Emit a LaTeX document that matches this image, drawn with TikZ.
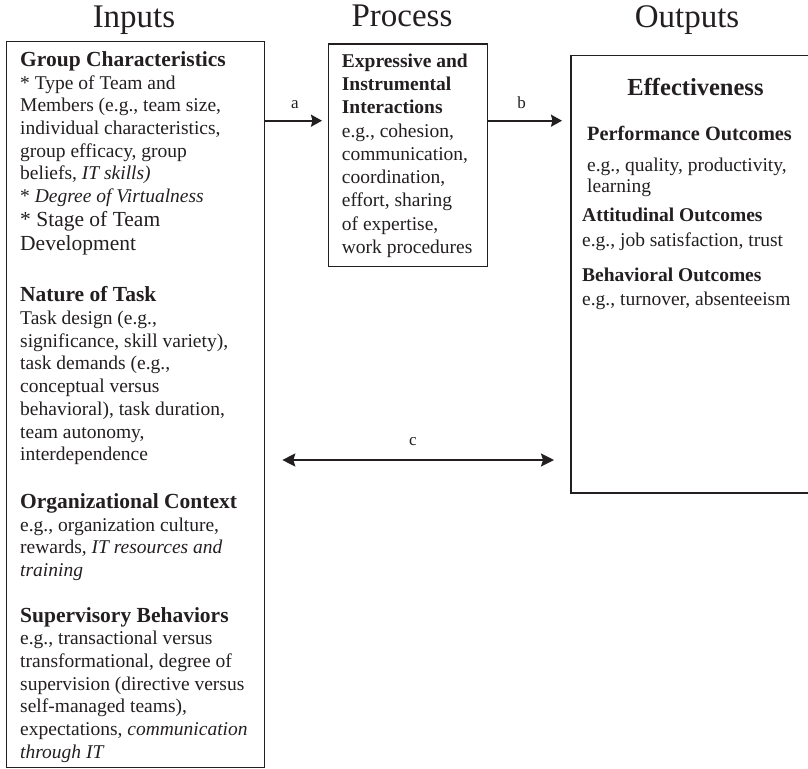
\documentclass[tikz,border=0pt]{standalone}
\usepackage{fontspec}
\setmainfont{Liberation Serif}
\usetikzlibrary{arrows.meta}
\definecolor{ink}{HTML}{231F20}
\newcommand{\inhead}[1]{{\fontsize{21.5}{22.7}\selectfont\bfseries #1}}

\begin{document}
\begin{tikzpicture}[x=1pt,y=-1pt,
  frame/.style={draw=ink, line width=1.3pt, inner sep=0pt, anchor=north west},
  % multi-line text blocks are placed by the baseline of their last line
  body/.style={anchor=base west, inner sep=0pt, align=left, text=ink,
    font=\fontsize{19.5}{22.7}\selectfont},
  bigbody/.style={body, font=\fontsize{21.5}{24}\selectfont},
  procbody/.style={body, font=\fontsize{19.5}{23.25}\selectfont},
  outbody/.style={body, font=\fontsize{19.5}{20.3}\selectfont},
  heading/.style={anchor=base, inner sep=0pt, text=ink, font=\fontsize{33}{36}\selectfont},
  tag/.style={anchor=base, inner sep=0pt, text=ink, font=\fontsize{17}{20}\selectfont},
  arr/.style={draw=ink, line width=2pt, -{Stealth[length=11pt,width=12pt,inset=1.5pt]}},
  dblarr/.style={draw=ink, line width=2pt,
    {Stealth[length=13pt,width=13pt,inset=2pt]}-{Stealth[length=13pt,width=13pt,inset=2pt]}}
]
\useasboundingbox (0,0) rectangle (808,768);

% column headings
\node[heading] (hin)   at (134,28)   {Inputs};
\node[heading] (hproc) at (402,26.7) {Process};
\node[heading] (hout)  at (687,28)   {Outputs};

% boxes
\node[frame, minimum width=258pt, minimum height=726pt] (inputs) at (6,40.7) {};
\node[frame, minimum width=159pt, minimum height=222.7pt] (process) at (328,43.3) {};
\node[frame, draw=none, minimum width=245pt, minimum height=436.2pt] (outputs) at (571,55.5) {};
\draw[draw=ink, line width=1.3pt] (outputs.north east) -- (outputs.north west)
  -- (outputs.south west) -- (outputs.south east);

% inputs
\node[body] (grp) at (20,202.6) {\inhead{Group Characteristics}\\
  * Type of Team and\\
  Members (e.g., team size,\\
  individual characteristics,\\
  group efficacy, group\\
  beliefs, \textit{IT skills)}\\
  * \textit{Degree of Virtualness}};
\node[bigbody] (stage) at (20,250.7) {* Stage of Team\\ Development};

\node[body] (task) at (20,460.7) {\inhead{Nature of Task}\\
  Task design (e.g.,\\
  significance, skill variety),\\
  task demands (e.g.,\\
  conceptual versus\\
  behavioral), task duration,\\
  team autonomy,\\
  interdependence};

\node[body] (org) at (20,576.4) {\inhead{Organizational Context}\\
  e.g., organization culture,\\
  rewards, \textit{IT resources and}\\
  \textit{training}};

\node[body] (sup) at (20,758.3) {\inhead{Supervisory Behaviors}\\
  e.g., transactional versus\\
  transformational, degree of\\
  supervision (directive versus\\
  self-managed teams),\\
  expectations, \textit{communication}\\
  \textit{through IT}};

% process
\node[procbody] (inter) at (341.7,253.3) {\textbf{Expressive and}\\
  \textbf{Instrumental}\\
  \textbf{Interactions}\\
  e.g., cohesion,\\
  communication,\\
  coordination,\\
  effort, sharing\\
  of expertise,\\
  work procedures};

% outputs
\node[anchor=base, inner sep=0pt, text=ink, font=\fontsize{24.5}{28}\selectfont\bfseries]
  (eff) at (695.5,95) {Effectiveness};
\node[body, font=\fontsize{20.3}{22}\selectfont\bfseries] (perf) at (587,140) {Performance Outcomes};
\node[outbody] (perfx) at (587,192) {e.g., quality, productivity,\\ learning};
\node[body] (att) at (582,221.7) {\textbf{Attitudinal Outcomes}};
\node[body] (attx) at (582,246.7) {e.g., job satisfaction, trust};
\node[body] (beh) at (582,281.7) {\textbf{Behavioral Outcomes}};
\node[body] (behx) at (582,305) {e.g., turnover, absenteeism};

% connectors
\coordinate (ya) at (0,120.7);
\coordinate (yc) at (0,460);
\draw[arr, shorten >=6pt] (inputs.east |- ya) -- (process.west |- ya);
\draw[arr, shorten >=9pt] (process.east |- ya) -- (outputs.west |- ya);
\draw[dblarr, shorten <=17pt, shorten >=17pt] (inputs.east |- yc) -- (outputs.west |- yc);

\node[tag] (la) at (295,108.3) {a};
\node[tag] (lb) at (521.7,108.3) {b};
\node[tag] (lc) at (413,445) {c};
\end{tikzpicture}
\end{document}
